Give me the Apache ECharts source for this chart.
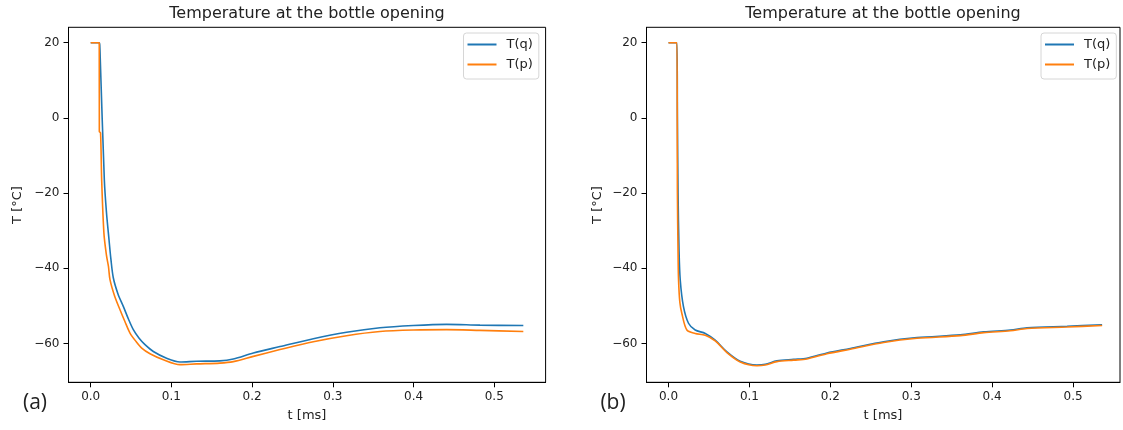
<!DOCTYPE html>
<html>
<head>
<meta charset="utf-8">
<script src="https://cdn.jsdelivr.net/npm/echarts@6/dist/echarts.min.js"></script>
<style>
html,body{margin:0;padding:0;background:#fff;}
#chart{width:1123px;height:430px;}
</style>
</head>
<body>
<div id="chart"></div>
<script>
// ---- Data ----
const titleText = 'Temperature at the bottle opening';
const seriesNames = ['T(q)', 'T(p)'];
const xTicks = [0, 0.1, 0.2, 0.3, 0.4, 0.5];
const yTicks = [-60, -40, -20, 0, 20];

// Panel (a)
const a_q_t = [0, 0.0107, 0.0113, 0.0118, 0.0169, 0.0195, 0.0227, 0.025, 0.028, 0.0338, 0.0404, 0.047, 0.0528, 0.06, 0.0673, 0.0776, 0.094, 0.1106, 0.131, 0.16, 0.1767, 0.2015, 0.2345, 0.2758, 0.317, 0.3584, 0.3997, 0.441, 0.4823, 0.536];
const a_q_T = [20, 20, 19, 16, -16.5, -25, -32.4, -37.5, -42.5, -46.8, -50.1, -53.6, -56.3, -58.6, -60.3, -62.1, -63.9, -64.9, -64.7, -64.6, -64.1, -62.5, -60.8, -58.7, -57.0, -55.8, -55.2, -54.9, -55.1, -55.2];
const a_p_t = [0, 0.0106, 0.0107, 0.0122, 0.0136, 0.0164, 0.0195, 0.022, 0.0239, 0.0294, 0.0363, 0.0425, 0.0487, 0.056, 0.0632, 0.0735, 0.09, 0.1106, 0.131, 0.16, 0.1767, 0.2015, 0.2345, 0.2758, 0.317, 0.3584, 0.3997, 0.441, 0.4823, 0.536];
const a_p_T = [20, 20, -3.6, -4, -16.5, -30.7, -36.5, -39.5, -43, -47.2, -51.0, -54.2, -57.2, -59.4, -61.2, -62.7, -64.3, -65.6, -65.4, -65.2, -64.8, -63.4, -61.6, -59.5, -57.9, -56.8, -56.4, -56.3, -56.5, -56.8];

// Panel (b)
const b_q_t = [0, 0.0104, 0.011, 0.0118, 0.013, 0.0145, 0.0185, 0.0247, 0.033, 0.0454, 0.0577, 0.0722, 0.0886, 0.1093, 0.1196, 0.134, 0.1545, 0.171, 0.1958, 0.2247, 0.2659, 0.3071, 0.3607, 0.3895, 0.4225, 0.4431, 0.4926, 0.5359];
const b_q_T = [20, 20, 0, -20, -35, -43.1, -50.2, -54.6, -56.4, -57.3, -59.1, -62.2, -64.7, -65.7, -65.5, -64.6, -64.2, -63.9, -62.5, -61.3, -59.5, -58.4, -57.7, -56.9, -56.4, -55.8, -55.4, -55.0];
const b_p_t = [0, 0.0104, 0.011, 0.0118, 0.0124, 0.014, 0.0165, 0.0227, 0.033, 0.0454, 0.0577, 0.0722, 0.0886, 0.1093, 0.1196, 0.134, 0.1545, 0.171, 0.1958, 0.2247, 0.2659, 0.3071, 0.3607, 0.3895, 0.4225, 0.4431, 0.4926, 0.5359];
const b_p_T = [20, 20, -20, -36, -43, -49, -52, -56.4, -57.3, -57.8, -59.3, -62.4, -64.9, -65.9, -65.7, -64.8, -64.4, -64.1, -62.7, -61.5, -59.7, -58.6, -57.9, -57.1, -56.6, -56.0, -55.6, -55.2];

// ---- Build chart ----
const zip = (xs, ys) => xs.map((x, i) => [x, ys[i]]);
const FONT = '"DejaVu Sans", sans-serif';
const BLUE = '#1f77b4', ORANGE = '#ff7f0e';
const minus = v => String(v).replace('-', '\u2212');

function xAxis(gi, min, max) {
  return {
    type: 'value', gridIndex: gi, min: min, max: max,
    axisLine: {show: true, onZero: false, lineStyle: {color: '#000', width: 1}},
    axisTick: {show: true, customValues: xTicks, length: 5, lineStyle: {color: '#000'}},
    axisLabel: {customValues: xTicks, margin: 9, color: '#222', fontFamily: FONT, fontSize: 12,
      formatter: v => v.toFixed(1)},
    splitLine: {show: false}
  };
}
function yAxis(gi) {
  return {
    type: 'value', gridIndex: gi, min: -70.3, max: 24.1,
    axisLine: {show: true, onZero: false, lineStyle: {color: '#000', width: 1}},
    axisTick: {show: true, customValues: yTicks, length: 5, lineStyle: {color: '#000'}},
    axisLabel: {customValues: yTicks, margin: 9, color: '#222', fontFamily: FONT, fontSize: 12,
      formatter: v => minus(v)},
    splitLine: {show: false}
  };
}
function line(name, data, color, xi) {
  return {
    type: 'line', name: name, xAxisIndex: xi, yAxisIndex: xi, data: data,
    showSymbol: false, symbol: 'none', smooth: 0.3,
    lineStyle: {color: color, width: 1.6}, itemStyle: {color: color},
    animation: false, silent: true
  };
}
function legend(left) {
  return {
    data: seriesNames, orient: 'vertical', left: left, top: 33,
    icon: 'rect', itemWidth: 29, itemHeight: 2, itemGap: 5,
    padding: [4, 6, 7, 4],
    backgroundColor: '#fff', borderColor: '#d6d6d6', borderWidth: 1, borderRadius: 3,
    textStyle: {fontFamily: FONT, fontSize: 13, color: '#222', lineHeight: 15, padding: [0, 0, 0, 5]},
    selectedMode: false
  };
}
function txt(text, x, y, size, family, rot) {
  return {type: 'text', x: x, y: y, rotation: rot || 0, silent: true,
    style: {text: text, fill: '#222', font: size + 'px ' + family, textAlign: 'center', textVerticalAlign: 'middle'}};
}

const option = {
  animation: false,
  backgroundColor: '#fff',
  grid: [
    {left: 68.5, right: 1123 - 545.6, top: 27.3, bottom: 430 - 382.3, show: true, borderColor: '#000', borderWidth: 1, backgroundColor: 'transparent'},
    {left: 646.5, right: 1123 - 1120, top: 27.3, bottom: 430 - 382.3, show: true, borderColor: '#000', borderWidth: 1, backgroundColor: 'transparent'}
  ],
  xAxis: [xAxis(0, -0.0275, 0.5636), xAxis(1, -0.0272, 0.558)],
  yAxis: [yAxis(0), yAxis(1)],
  legend: [legend(463.5), legend(1041)],
  series: [
    line(seriesNames[0], zip(a_q_t, a_q_T), BLUE, 0),
    line(seriesNames[1], zip(a_p_t, a_p_T), ORANGE, 0),
    line(seriesNames[0], zip(b_q_t, b_q_T), BLUE, 1),
    line(seriesNames[1], zip(b_p_t, b_p_T), ORANGE, 1)
  ],
  graphic: [
    txt(titleText, 307, 13.5, 16, FONT),
    txt(titleText, 883, 13.5, 16, FONT),
    txt('t [ms]', 307, 416, 13, FONT),
    txt('t [ms]', 883, 416, 13, FONT),
    txt('T [°C]', 17.5, 205, 13, FONT, Math.PI / 2),
    txt('T [°C]', 597.5, 205, 13, FONT, Math.PI / 2),
    txt('(a)', 35, 403, 21, '"Open Sans", sans-serif'),
    txt('(b)', 613, 403, 21, '"Open Sans", sans-serif')
  ]
};
const chart = echarts.init(document.getElementById('chart'), null, {renderer: 'canvas'});
chart.setOption(option);
</script>
</body>
</html>
